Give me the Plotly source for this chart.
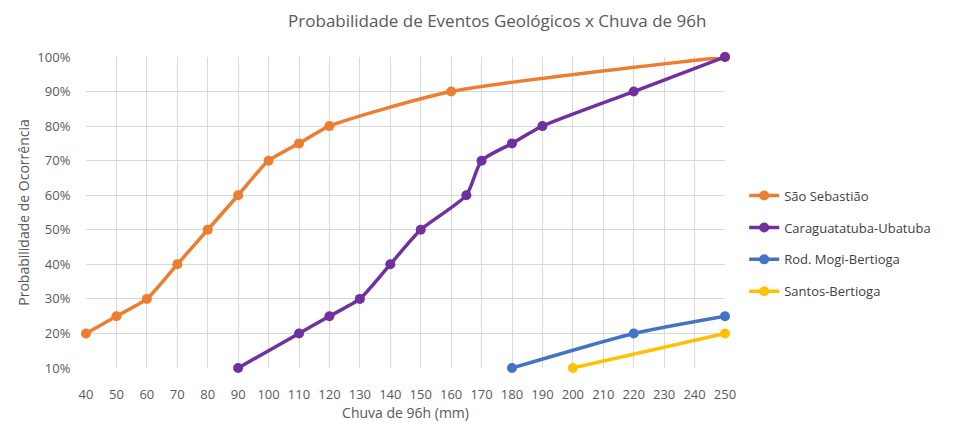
import plotly.graph_objects as go

title = "Probabilidade de Eventos Geológicos x Chuva de 96h"
x_ticks = list(range(40, 251, 10))
y_ticks = [0.1, 0.2, 0.3, 0.4, 0.5, 0.6, 0.7, 0.8, 0.9, 1.0]

sao_x = [40, 50, 60, 70, 80, 90, 100, 110, 120, 160, 250]
sao_y = [0.20, 0.25, 0.30, 0.40, 0.50, 0.60, 0.70, 0.75, 0.80, 0.90, 1.00]

car_x = [90, 110, 120, 130, 140, 150, 165, 170, 180, 190, 220, 250]
car_y = [0.10, 0.20, 0.25, 0.30, 0.40, 0.50, 0.60, 0.70, 0.75, 0.80, 0.90, 1.00]

mog_x = [180, 220, 250]
mog_y = [0.10, 0.20, 0.25]

san_x = [200, 250]
san_y = [0.10, 0.20]

series = [
    ("São Sebastião", sao_x, sao_y, "#ED7D31"),
    ("Caraguatatuba-Ubatuba", car_x, car_y, "#7030A0"),
    ("Rod. Mogi-Bertioga", mog_x, mog_y, "#4472C4"),
    ("Santos-Bertioga", san_x, san_y, "#FFC000"),
]

fig = go.Figure()
for name, xs, ys, col in series:
    fig.add_trace(go.Scatter(
        x=xs, y=ys, name=name, mode="lines+markers",
        line=dict(color=col, width=3.5, shape="spline", smoothing=0.6),
        marker=dict(color=col, size=10),
        cliponaxis=False, legendgroup=name,
    ))

font_fam = "Open Sans, Liberation Sans, sans-serif"
fig.update_layout(
    width=965, height=421,
    margin=dict(l=78, r=248, t=49, b=61),
    paper_bgcolor="white", plot_bgcolor="white",
    font=dict(family=font_fam, color="#595959", size=13),
    title=dict(text=title, x=0.507, xanchor="center", y=0.97, yanchor="middle",
               font=dict(size=17, color="#595959")),
    xaxis=dict(range=[40, 250], tickvals=x_ticks, ticktext=[str(v) for v in x_ticks],
               showgrid=True, gridcolor="#d9d9d9", gridwidth=1, zeroline=False,
               showline=False, ticks="outside", ticklen=14, tickcolor="rgba(0,0,0,0)",
               title=dict(text="Chuva de 96h (mm)", font=dict(size=14, color="#595959"), standoff=4)),
    yaxis=dict(range=[0.1, 1.0], tickvals=y_ticks, tickformat=".0%",
               showgrid=True, gridcolor="#d9d9d9", gridwidth=1, zeroline=False,
               showline=False, ticks="outside", ticklen=12, tickcolor="rgba(0,0,0,0)",
               title=dict(text="Probabilidade de Ocorrência", font=dict(size=14, color="#595959"), standoff=4)),
    legend=dict(x=1.03, xanchor="left", y=0.40, yanchor="middle",
                font=dict(size=13, color="#404040"), tracegroupgap=12,
                itemwidth=30),
    showlegend=True,
)

fig.write_html("out.html")
